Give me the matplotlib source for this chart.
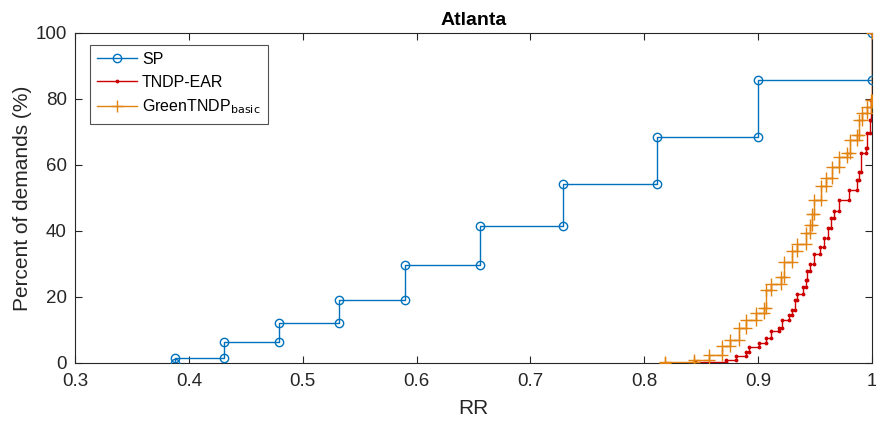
import matplotlib.pyplot as plt
import numpy as np

# SP step values (RR, cumulative %)
sp_rr = [0.388, 0.431, 0.479, 0.532, 0.590, 0.656, 0.729, 0.811, 0.900, 1.0]
sp_pct = [1.4, 6.3, 12.1, 19.1, 29.6, 41.5, 54.3, 68.6, 85.8, 100.0]

# TNDP-EAR
ear_rr = [0.845, 0.872, 0.881, 0.889, 0.892, 0.901, 0.907, 0.911, 0.918, 0.921,
          0.927, 0.930, 0.932, 0.934, 0.939, 0.942, 0.943, 0.946, 0.949, 0.954,
          0.958, 0.961, 0.964, 0.967, 0.971, 0.980, 0.987, 0.989, 0.990, 0.995,
          0.996, 0.998, 0.999, 1.0]
ear_pct = [0.3, 0.9, 2.0, 3.3, 4.8, 6.0, 7.5, 9.7, 10.6, 13.0,
           14.5, 16.0, 19.0, 21.0, 23.0, 25.0, 28.0, 30.0, 33.0, 35.0,
           38.0, 41.0, 44.0, 46.0, 49.4, 52.4, 55.4, 58.0, 63.6, 65.0,
           69.7, 73.6, 79.7, 100.0]

# GreenTNDP_basic
green_rr = [0.818, 0.844, 0.857, 0.868, 0.875, 0.883, 0.889, 0.898, 0.905, 0.907,
            0.911, 0.920, 0.923, 0.930, 0.934, 0.942, 0.946, 0.947, 0.949, 0.955,
            0.960, 0.965, 0.971, 0.978, 0.981, 0.987, 0.989, 0.991, 0.996, 0.999,
            1.0]
green_pct = [0.3, 1.0, 2.4, 5.0, 7.0, 10.6, 13.0, 15.0, 16.6, 22.0,
             24.0, 26.0, 30.6, 34.0, 36.0, 39.3, 41.8, 45.0, 49.4, 53.6,
             56.0, 59.4, 62.4, 63.6, 67.6, 69.0, 73.6, 75.8, 77.6, 79.7,
             100.0]


def stair_corners(xs, ys, y0=0.0):
    # MATLAB-style stairs: marker at both corners of each step
    px, py = [], []
    prev = y0
    for x, y in zip(xs, ys):
        px += [x, x]
        py += [prev, y]
        prev = y
    return px, py


plt.rcParams.update({
    'font.family': ['Liberation Sans', 'DejaVu Sans'],
    'font.size': 13,
    'axes.linewidth': 0.8,
})

fig = plt.figure(figsize=(8.76, 4.25), dpi=100)
ax = fig.add_axes([0.0856, 0.1459, 0.9098, 0.7765])

x, y = stair_corners(sp_rr, sp_pct)
ax.plot(x, y, color='#0072BD', lw=1, marker='o', ms=6, mfc='none', mew=1,
        label='SP', zorder=3)

x, y = stair_corners(ear_rr, ear_pct)
ax.plot(x, y, color='#CC0000', lw=1, marker='.', ms=3.5,
        label='TNDP-EAR', zorder=2)

x, y = stair_corners(green_rr, green_pct)
ax.plot(x, y, color='#E2820F', lw=1, marker='+', ms=8, mew=1,
        label='GreenTNDP$_{\\mathrm{basic}}$', zorder=4)

ax.set_xlim(0.3, 1.0)
ax.set_ylim(0, 100)
ax.set_xticks(np.arange(0.3, 1.01, 0.1))
ax.set_xticklabels(['0.3', '0.4', '0.5', '0.6', '0.7', '0.8', '0.9', '1'])
ax.set_yticks([0, 20, 40, 60, 80, 100])
ax.tick_params(direction='in', top=True, right=True, length=5, labelsize=13.5,
               color='#262626', labelcolor='#262626')
ax.tick_params(axis='x', pad=7)
ax.tick_params(axis='y', pad=6)
for s in ax.spines.values():
    s.set_color('#262626')

ax.set_xlabel('RR', fontsize=15, color='#262626', labelpad=7)
ax.set_ylabel('Percent of demands (%)', fontsize=15, color='#262626', labelpad=2)
ax.set_title('Atlanta', fontsize=14, fontweight='bold', pad=6)

leg = ax.legend(loc='upper left', bbox_to_anchor=(0.019, 0.965), fontsize=11.5,
                frameon=True, fancybox=False, edgecolor='#262626',
                handlelength=2.5, borderpad=0.45, labelspacing=0.5,
                handletextpad=0.3, borderaxespad=0.0)
leg.get_frame().set_linewidth(0.8)

plt.savefig('out.png', dpi=100)
